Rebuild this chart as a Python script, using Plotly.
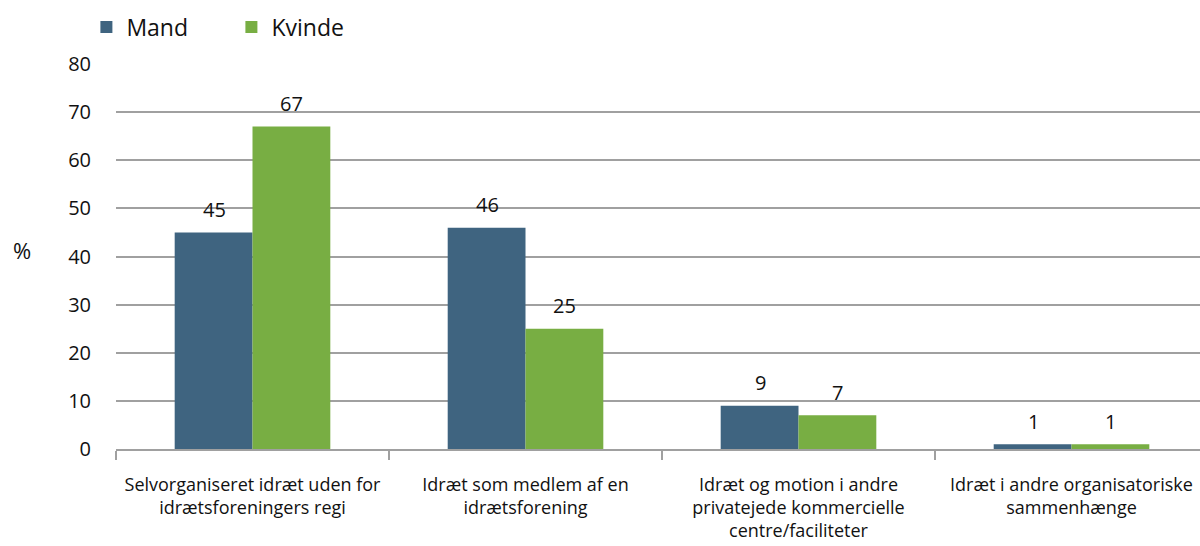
import plotly.graph_objects as go

categories = [
    "Selvorganiseret idræt uden for<br>idrætsforeningers regi",
    "Idræt som medlem af en<br>idrætsforening",
    "Idræt og motion i andre<br>privatejede kommercielle<br>centre/faciliteter",
    "Idræt i andre organisatoriske<br>sammenhænge",
]
mand = [45, 46, 9, 1]
kvinde = [67, 25, 7, 1]
y_ticks = [0, 10, 20, 30, 40, 50, 60, 70, 80]

FONT = "Open Sans"
MAND_COLOR = "#3F6480"
KVINDE_COLOR = "#78AE43"
GRID = "#A0A0A0"
BAR_PX = 77  # half of a category's bar group, in pixels

fig = go.Figure()
fig.add_trace(go.Bar(
    name="Mand", x=categories, y=mand, marker_color=MAND_COLOR,
    marker_line_width=0,
))
fig.add_trace(go.Bar(
    name="Kvinde", x=categories, y=kvinde, marker_color=KVINDE_COLOR,
    marker_line_width=0,
))

# value labels above each bar
labels = []
for cat, m, k in zip(categories, mand, kvinde):
    for val, shift in ((m, -BAR_PX / 2), (k, BAR_PX / 2)):
        labels.append(dict(
            x=cat, y=val, xref="x", yref="y", text=str(val),
            showarrow=False, xshift=shift, yshift=23,
            xanchor="center", yanchor="middle",
            font=dict(size=20, family=FONT, color="#111111"),
        ))

labels.append(dict(
    text="%", xref="paper", yref="paper", x=(22 - 116) / 1084,
    y=(449 - 250) / 385, showarrow=False,
    font=dict(size=22, family=FONT, color="#111111"),
    xanchor="center", yanchor="middle",
))

fig.update_layout(
    width=1200, height=546,
    margin=dict(l=116, r=0, t=64, b=97),
    paper_bgcolor="white", plot_bgcolor="white",
    font=dict(family=FONT, color="#111111"),
    barmode="group", bargap=0.43, bargroupgap=0,
    showlegend=True,
    legend=dict(
        orientation="h", xref="container", yref="container",
        x=0.072, y=1 - 27 / 546, xanchor="left", yanchor="middle",
        font=dict(size=23, family=FONT), itemwidth=30,
        traceorder="normal", entrywidth=100,
    ),
    xaxis=dict(
        range=[-0.5, 3.5 - 8 / 273], tickson="boundaries",
        ticks="outside", ticklen=9, tickwidth=2, tickcolor=GRID,
        showline=True, linecolor=GRID, linewidth=2,
        tickfont=dict(size=18, family=FONT, color="#111111"),
        ticklabelstandoff=18, showgrid=False,
    ),
    yaxis=dict(
        range=[0, 80], tickvals=y_ticks, showgrid=True,
        gridcolor=GRID, gridwidth=2, zeroline=False, showline=False,
        tickfont=dict(size=20, family=FONT, color="#111111"),
        ticklabelstandoff=24,
    ),
    annotations=labels,
)

fig.write_html("out.html")
